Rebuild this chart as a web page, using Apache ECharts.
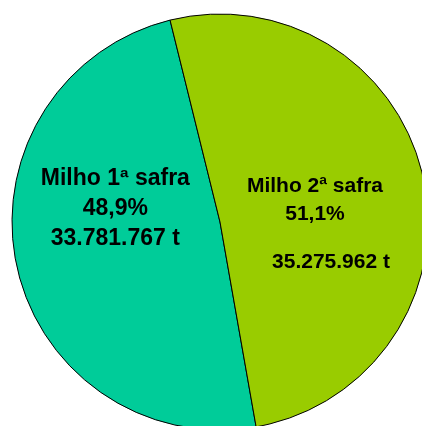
<!DOCTYPE html>
<html><head><meta charset="utf-8">
<script src="https://cdn.jsdelivr.net/npm/echarts@6/dist/echarts.min.js"></script>
<style>html,body{margin:0;padding:0;background:#fff}#c{width:422px;height:426px}</style>
</head><body><div id="c"></div>
<script>
const categories = ['Milho 1ª safra', 'Milho 2ª safra'];
const tonnes = [33781767, 35275962];
const colors = ['#00CC99', '#99CC00'];

const total = tonnes.reduce((a, b) => a + b, 0);
function fmtInt(n) { return String(n).replace(/\B(?=(\d{3})+(?!\d))/g, '.'); }
function fmtPct(v) { return (v / total * 100).toFixed(1).replace('.', ',') + '%'; }

const font = "'Liberation Sans', Arial, sans-serif";
const richLeft = {
  a: { fontSize: 23, fontWeight: 'bold', fontFamily: font, color: '#000', lineHeight: 30 },
  b: { fontSize: 23, fontWeight: 'bold', fontFamily: font, color: '#000', lineHeight: 30 },
  c: { fontSize: 23, fontWeight: 'bold', fontFamily: font, color: '#000', lineHeight: 30 }
};
const richRight = {
  a: { fontSize: 21, fontWeight: 'bold', fontFamily: font, color: '#000', lineHeight: 28 },
  b: { fontSize: 21, fontWeight: 'bold', fontFamily: font, color: '#000', lineHeight: 28 },
  s: { fontSize: 10, fontFamily: font, color: '#000', lineHeight: 19.5 },
  c: { fontSize: 21, fontWeight: 'bold', fontFamily: font, color: '#000', lineHeight: 28, padding: [0, 0, 0, 32] }
};
const labelShift = [[0, -35.6], [-9.7, 24.4]];

const data = categories.map((name, i) => ({
  name: name,
  value: tonnes[i],
  itemStyle: { color: colors[i] },
  label: i === 0 ? {
    formatter: '{a|' + name + '}\n{b|' + fmtPct(tonnes[i]) + '}\n{c|' + fmtInt(tonnes[i]) + ' t}',
    rich: richLeft
  } : {
    formatter: '{a|' + name + '}\n{b|' + fmtPct(tonnes[i]) + '}\n{s| }\n{c|' + fmtInt(tonnes[i]) + ' t}',
    rich: richRight
  }
}));

const chart = echarts.init(document.getElementById('c'), null, { renderer: 'canvas' });
chart.setOption({
  animation: false,
  backgroundColor: '#fff',
  series: [{
    type: 'pie',
    center: [220, 222],
    radius: [0, 208],
    startAngle: -80,
    clockwise: true,
    avoidLabelOverlap: false,
    emphasis: { disabled: true },
    itemStyle: { borderColor: '#000', borderWidth: 1 },
    label: { show: true, position: 'inside', rotate: 0, align: 'center', verticalAlign: 'middle' },
    labelLine: { show: false },
    labelLayout: function (p) {
      const s = labelShift[p.dataIndex];
      return { dx: s[0], dy: s[1] };
    },
    data: data
  }]
});
</script></body></html>
